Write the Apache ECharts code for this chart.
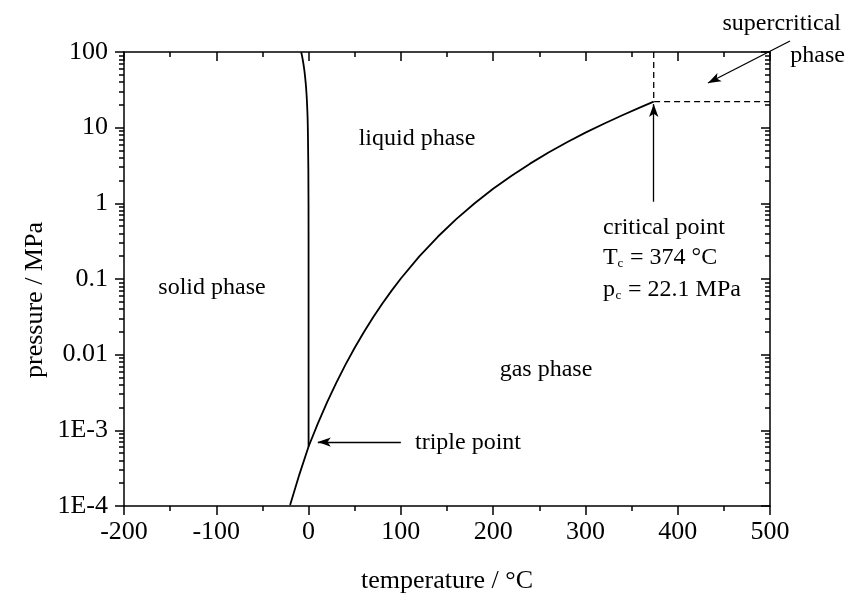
<!DOCTYPE html>
<html>
<head>
<meta charset="utf-8">
<script src="https://cdn.jsdelivr.net/npm/echarts@6/dist/echarts.min.js"></script>
<style>
html,body{margin:0;padding:0;background:#fff;}
#chart{width:845px;height:599px;}
</style>
</head>
<body>
<div id="chart"></div>
<script>
// ---- data (temperature in °C, pressure in MPa) ----
const vapTemps = [-20, -10, 0.01, 10, 20, 30, 40, 50, 60, 70, 80, 90, 100, 120, 140, 160, 180, 200, 220, 240, 260, 280, 300, 320, 340, 360, 374];
const vapPress = [1.03e-4, 2.6e-4, 6.117e-4, 1.228e-3, 2.339e-3, 4.247e-3, 7.385e-3, 0.01235, 0.01995, 0.0312, 0.04741, 0.07018, 0.1014, 0.1987, 0.3615, 0.6182, 1.0028, 1.5549, 2.3196, 3.3469, 4.6923, 6.4166, 8.5879, 11.284, 14.601, 18.666, 22.064];
const meltTemps = [0.01, 0, -0.07, -0.8, -1.6, -2.4, -3.2, -4.0, -4.8, -5.6, -6.4, -7.2, -8.0];
const meltPress = [6.117e-4, 0.1, 1, 10, 20, 30, 40, 50, 60, 70, 80, 90, 100];
const criticalT = 374;
const criticalP = 22.1;
const xMin = -200, xMax = 500, xStep = 100;
const yTickLabels = ['1E-4', '1E-3', '0.01', '0.1', '1', '10', '100'];
const yMinExp = -4, yMaxExp = 2;
const triplePointArrowP = 7e-4;

const FONT = '"Liberation Serif", "Times New Roman", serif';
const lg = Math.log10;

const minorY = [];
for (let e = yMinExp; e < yMaxExp; e++) {
  for (let k = 2; k <= 9; k++) minorY.push(lg(k * Math.pow(10, e)));
}

const black = '#000';
const axisLineStyle = { color: black, width: 1.5 };

function xAx(pos, inside, labels) {
  return {
    type: 'value', position: pos, min: xMin, max: xMax, interval: xStep,
    axisLine: { show: true, onZero: false, lineStyle: axisLineStyle },
    axisTick: { show: true, inside: inside, length: 9, lineStyle: axisLineStyle },
    minorTick: { show: true, splitNumber: 2, length: 5, lineStyle: axisLineStyle },
    axisLabel: { show: labels, margin: 13, fontSize: 26, fontFamily: FONT, color: black },
    splitLine: { show: false }, minorSplitLine: { show: false }
  };
}
function yAx(pos, inside, labels) {
  return {
    type: 'value', position: pos, min: yMinExp, max: yMaxExp, interval: 1,
    axisLine: { show: true, onZero: false, lineStyle: axisLineStyle },
    axisTick: { show: true, inside: inside, length: 9, lineStyle: axisLineStyle },
    axisLabel: { show: labels, margin: 16, fontSize: 26, fontFamily: FONT, color: black,
      formatter: v => yTickLabels[Math.round(v) - yMinExp] },
    splitLine: { show: false }
  };
}
function yMinor(pos, inside) {
  return {
    type: 'value', position: pos, min: yMinExp, max: yMaxExp,
    axisLine: { show: false, onZero: false },
    axisTick: { show: true, inside: inside, length: 5, customValues: minorY, lineStyle: axisLineStyle },
    axisLabel: { show: false },
    splitLine: { show: false }
  };
}

const xBottom = xAx('bottom', false, true);
xBottom.name = 'temperature / °C';
xBottom.nameLocation = 'middle';
xBottom.nameGap = 62;
xBottom.nameTextStyle = { fontSize: 26, fontFamily: FONT, color: black };

const lineStyleMain = { color: black, width: 1.8 };

const chart = echarts.init(document.getElementById('chart'), null, { renderer: 'canvas' });

const txt = (x, y, text, size, align) => ({
  type: 'text', x: x, y: y, silent: true,
  style: { text: text, font: size + 'px ' + FONT, fill: black, align: align || 'left', verticalAlign: 'middle' }
});

const option = {
  animation: false,
  backgroundColor: '#fff',
  grid: { left: 124, right: 75, top: 52, bottom: 90, containLabel: false },
  xAxis: [xBottom, xAx('top', true, false)],
  yAxis: [yAx('left', false, true), yAx('right', true, false), yMinor('left', false), yMinor('right', true)],
  series: [
    {
      name: 'vapour', type: 'line', xAxisIndex: 0, yAxisIndex: 0,
      data: vapTemps.map((t, i) => [t, lg(vapPress[i])]),
      showSymbol: false, symbol: 'none', lineStyle: lineStyleMain, silent: true, clip: true,
      markLine: {
        silent: true, symbol: ['none', 'arrow'], symbolSize: [7, 13],
        label: { show: false },
        lineStyle: { color: black, width: 1.3, type: 'solid' },
        data: [
          [{ coord: [100, lg(triplePointArrowP)] }, { coord: [10, lg(triplePointArrowP)] }],
          [{ coord: [criticalT, lg(1.05)] }, { coord: [criticalT, lg(20.5)] }],
          [{ x: 790, y: 41 }, { x: 708, y: 83 }]
        ]
      }
    },
    {
      name: 'melting', type: 'line', xAxisIndex: 0, yAxisIndex: 0,
      data: meltTemps.map((t, i) => [t, lg(meltPress[i])]),
      showSymbol: false, symbol: 'none', smooth: true, lineStyle: lineStyleMain, silent: true
    },
    {
      name: 'critical', type: 'line', xAxisIndex: 0, yAxisIndex: 0,
      data: [[criticalT, yMaxExp], [criticalT, lg(criticalP)], [xMax, lg(criticalP)]],
      showSymbol: false, symbol: 'none', silent: true,
      lineStyle: { color: black, width: 1.3, type: [6, 4] }
    }
  ],
  graphic: [
    {
      type: 'text', x: 35, y: 300, rotation: Math.PI / 2, silent: true,
      style: { text: 'pressure / MPa', font: '26px ' + FONT, fill: black, align: 'center', verticalAlign: 'middle' }
    },
    txt(841, 24, 'supercritical', 24, 'right'),
    txt(845, 56, 'phase', 24, 'right'),
    txt(417, 139, 'liquid phase', 24, 'center'),
    txt(212, 288, 'solid phase', 24, 'center'),
    txt(546, 370, 'gas phase', 24, 'center'),
    txt(415, 443, 'triple point', 24, 'left'),
    txt(603, 228, 'critical point', 24, 'left'),
    {
      type: 'group', x: 603, y: 258, children: [
        txt(0, 0, 'T', 24, 'left'),
        txt(14.5, 6, 'c', 13, 'left'),
        txt(27, 0, '= 374 °C', 24, 'left')
      ]
    },
    {
      type: 'group', x: 603, y: 290, children: [
        txt(0, 0, 'p', 24, 'left'),
        txt(12.5, 6, 'c', 13, 'left'),
        txt(25, 0, '= 22.1 MPa', 24, 'left')
      ]
    }
  ]
};
chart.setOption(option);
</script>
</body>
</html>
